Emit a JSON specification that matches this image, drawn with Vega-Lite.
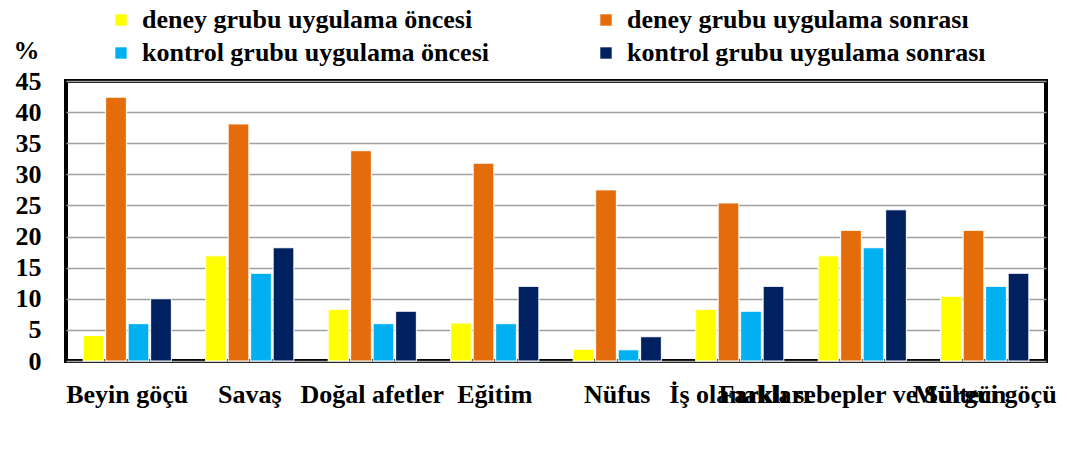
{
  "$schema": "https://vega.github.io/schema/vega-lite/v6.json",
  "width": 980,
  "height": 280,
  "autosize": {"type": "none"},
  "padding": {"left": 66, "top": 81, "right": 21, "bottom": 112},
  "background": "white",
  "config": {
    "font": "Liberation Serif",
    "view": {"stroke": "black", "strokeWidth": 4}
  },
  "data": {
    "values": [
      {"kategori": "Beyin göçü", "grup": "deney grubu uygulama öncesi", "deger": 4.1},
      {"kategori": "Beyin göçü", "grup": "deney grubu uygulama sonrası", "deger": 42.4},
      {"kategori": "Beyin göçü", "grup": "kontrol grubu uygulama öncesi", "deger": 6.0},
      {"kategori": "Beyin göçü", "grup": "kontrol grubu uygulama sonrası", "deger": 10.0},
      {"kategori": "Savaş", "grup": "deney grubu uygulama öncesi", "deger": 16.9},
      {"kategori": "Savaş", "grup": "deney grubu uygulama sonrası", "deger": 38.1},
      {"kategori": "Savaş", "grup": "kontrol grubu uygulama öncesi", "deger": 14.1},
      {"kategori": "Savaş", "grup": "kontrol grubu uygulama sonrası", "deger": 18.2},
      {"kategori": "Doğal afetler", "grup": "deney grubu uygulama öncesi", "deger": 8.3},
      {"kategori": "Doğal afetler", "grup": "deney grubu uygulama sonrası", "deger": 33.8},
      {"kategori": "Doğal afetler", "grup": "kontrol grubu uygulama öncesi", "deger": 6.0},
      {"kategori": "Doğal afetler", "grup": "kontrol grubu uygulama sonrası", "deger": 8.0},
      {"kategori": "Eğitim", "grup": "deney grubu uygulama öncesi", "deger": 6.1},
      {"kategori": "Eğitim", "grup": "deney grubu uygulama sonrası", "deger": 31.8},
      {"kategori": "Eğitim", "grup": "kontrol grubu uygulama öncesi", "deger": 6.0},
      {"kategori": "Eğitim", "grup": "kontrol grubu uygulama sonrası", "deger": 12.0},
      {"kategori": "Nüfus", "grup": "deney grubu uygulama öncesi", "deger": 1.9},
      {"kategori": "Nüfus", "grup": "deney grubu uygulama sonrası", "deger": 27.5},
      {"kategori": "Nüfus", "grup": "kontrol grubu uygulama öncesi", "deger": 1.8},
      {"kategori": "Nüfus", "grup": "kontrol grubu uygulama sonrası", "deger": 3.9},
      {"kategori": "İş olanakları", "grup": "deney grubu uygulama öncesi", "deger": 8.3},
      {"kategori": "İş olanakları", "grup": "deney grubu uygulama sonrası", "deger": 25.4},
      {"kategori": "İş olanakları", "grup": "kontrol grubu uygulama öncesi", "deger": 8.0},
      {"kategori": "İş olanakları", "grup": "kontrol grubu uygulama sonrası", "deger": 12.0},
      {"kategori": "Farklı sebepler ve Sürgün", "grup": "deney grubu uygulama öncesi", "deger": 16.9},
      {"kategori": "Farklı sebepler ve Sürgün", "grup": "deney grubu uygulama sonrası", "deger": 21.0},
      {"kategori": "Farklı sebepler ve Sürgün", "grup": "kontrol grubu uygulama öncesi", "deger": 18.2},
      {"kategori": "Farklı sebepler ve Sürgün", "grup": "kontrol grubu uygulama sonrası", "deger": 24.3},
      {"kategori": "Mülteci göçü", "grup": "deney grubu uygulama öncesi", "deger": 10.4},
      {"kategori": "Mülteci göçü", "grup": "deney grubu uygulama sonrası", "deger": 21.0},
      {"kategori": "Mülteci göçü", "grup": "kontrol grubu uygulama öncesi", "deger": 12.0},
      {"kategori": "Mülteci göçü", "grup": "kontrol grubu uygulama sonrası", "deger": 14.1}
    ]
  },
  "mark": {"type": "bar", "stroke": "white", "strokeWidth": 1},
  "encoding": {
    "x": {
      "field": "kategori", "type": "nominal", "sort": null,
      "scale": {"paddingInner": 0.28, "paddingOuter": 0.14},
      "axis": {
        "title": null, "labelAngle": 0, "labelFont": "Liberation Serif", "labelFontSize": 26,
        "labelFontWeight": "bold", "labelColor": "black", "labelPadding": 20,
        "labelOverlap": false, "labelBound": false, "labelLimit": 1000,
        "ticks": false, "domain": false
      }
    },
    "xOffset": {
      "field": "grup", "type": "nominal", "sort": null,
      "scale": {"paddingInner": 0.08}
    },
    "y": {
      "field": "deger", "type": "quantitative",
      "scale": {"domain": [0, 45], "nice": false},
      "axis": {
        "title": "%", "titleAngle": 0, "titleX": -40, "titleY": -31,
        "titleAlign": "center", "titleBaseline": "middle",
        "titleFont": "Liberation Serif", "titleFontSize": 26, "titleFontWeight": "bold", "titleColor": "black",
        "values": [0, 5, 10, 15, 20, 25, 30, 35, 40, 45],
        "labelFont": "Liberation Serif", "labelFontSize": 26, "labelFontWeight": "bold", "labelColor": "black",
        "labelPadding": 25, "ticks": false, "domain": false,
        "gridColor": "#a0a0a0", "gridWidth": 1.5, "gridOpacity": 1
      }
    },
    "color": {
      "field": "grup", "type": "nominal", "sort": null,
      "scale": {
        "domain": ["deney grubu uygulama öncesi", "deney grubu uygulama sonrası", "kontrol grubu uygulama öncesi", "kontrol grubu uygulama sonrası"],
        "range": ["#FFFF00", "#E46C0A", "#00B0F0", "#002060"]
      },
      "legend": {
        "title": null, "orient": "none", "legendX": 42, "legendY": -74, "direction": "horizontal",
        "columns": 2, "symbolType": "square", "symbolSize": 130, "symbolStrokeWidth": 0,
        "labelFont": "Liberation Serif", "labelFontSize": 26, "labelFontWeight": "bold", "labelColor": "black",
        "columnPadding": 104, "rowPadding": 7, "labelOffset": 8, "padding": 0, "labelLimit": 1000
      }
    }
  }
}
